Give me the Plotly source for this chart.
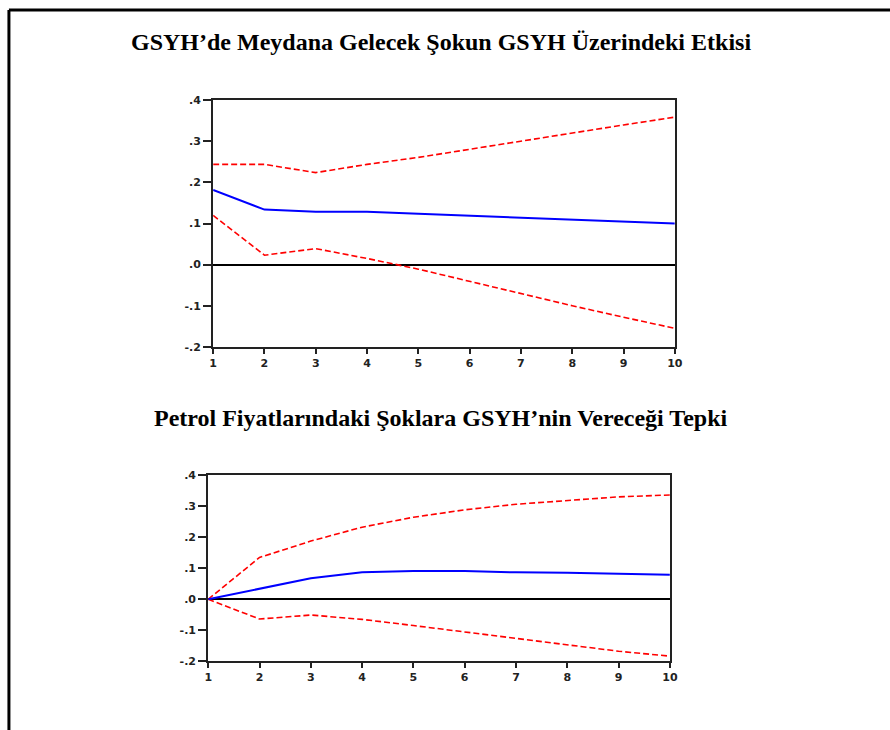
import plotly.graph_objects as go

W, H = 890, 730

periods = [1, 2, 3, 4, 5, 6, 7, 8, 9, 10]

# Chart 1: GSYH shock -> GSYH
gdp_resp = [0.182, 0.134, 0.129, 0.129, 0.124, 0.119, 0.114, 0.109, 0.104, 0.100]
gdp_upper = [0.244, 0.244, 0.224, 0.244, 0.261, 0.281, 0.300, 0.320, 0.340, 0.359]
gdp_lower = [0.120, 0.023, 0.039, 0.015, -0.011, -0.041, -0.070, -0.100, -0.128, -0.155]

# Chart 2: Oil price shock -> GSYH
oil_resp = [0.0, 0.034, 0.068, 0.087, 0.091, 0.091, 0.087, 0.086, 0.083, 0.079]
oil_upper = [0.0, 0.135, 0.188, 0.233, 0.265, 0.289, 0.307, 0.320, 0.331, 0.337]
oil_lower = [0.0, -0.064, -0.051, -0.065, -0.085, -0.106, -0.127, -0.149, -0.168, -0.184]

ytick_vals = [-0.2, -0.1, 0.0, 0.1, 0.2, 0.3, 0.4]
ytick_text = ["-.2", "-.1", ".0", ".1", ".2", ".3", ".4"]
xtick_vals = periods
xtick_text = [str(p) for p in periods]

title1 = "GSYH’de Meydana Gelecek Şokun GSYH Üzerindeki Etkisi"
title2 = "Petrol Fiyatlarındaki Şoklara GSYH’nin Vereceği Tepki"

fig = go.Figure()

def add_panel(resp, upper, lower, xa, ya):
    fig.add_trace(go.Scatter(x=periods, y=upper, mode="lines", xaxis=xa, yaxis=ya,
                             line=dict(color="#ff0000", width=1.6, dash="6px,3px"),
                             showlegend=False, hoverinfo="skip"))
    fig.add_trace(go.Scatter(x=periods, y=lower, mode="lines", xaxis=xa, yaxis=ya,
                             line=dict(color="#ff0000", width=1.6, dash="6px,3px"),
                             showlegend=False, hoverinfo="skip"))
    fig.add_trace(go.Scatter(x=periods, y=resp, mode="lines", xaxis=xa, yaxis=ya,
                             line=dict(color="#0000ff", width=2),
                             showlegend=False, hoverinfo="skip"))

add_panel(gdp_resp, gdp_upper, gdp_lower, "x", "y")
add_panel(oil_resp, oil_upper, oil_lower, "x2", "y2")

tickfont = dict(family="DejaVu Sans", size=11, color="#222222", weight="bold")

def xaxis(dom, anchor):
    return dict(domain=dom, anchor=anchor, range=[1, 10], tickvals=xtick_vals, ticktext=xtick_text,
                showline=True, mirror=True, linecolor="#222222", linewidth=2,
                ticks="outside", ticklen=5, tickwidth=1.5, tickcolor="#222222",
                showgrid=False, zeroline=False, tickfont=tickfont)

def yaxis(dom, anchor):
    return dict(domain=dom, anchor=anchor, range=[-0.2, 0.4], tickvals=ytick_vals, ticktext=ytick_text,
                showline=True, mirror=True, linecolor="#222222", linewidth=2,
                ticks="outside", ticklen=8, tickwidth=1.5, tickcolor="#222222",
                showgrid=False, zeroline=True, zerolinecolor="#000000", zerolinewidth=1.5,
                tickfont=tickfont)

fig.update_layout(
    width=W, height=H,
    margin=dict(l=0, r=0, t=0, b=0),
    paper_bgcolor="white", plot_bgcolor="white",
    xaxis=xaxis([212 / W, 680 / W], "y"),
    yaxis=yaxis([1 - 347 / H, 1 - 96 / H], "x"),
    xaxis2=xaxis([207 / W, 675 / W], "y2"),
    yaxis2=yaxis([1 - 667 / H, 1 - 478 / H], "x2"),
    annotations=[
        dict(text=title1, xref="paper", yref="paper", x=443 / W, y=1 - 37 / H,
             xanchor="center", yanchor="middle", showarrow=False,
             font=dict(family="Liberation Serif", size=24, color="black", weight="bold")),
        dict(text=title2, xref="paper", yref="paper", x=443 / W, y=1 - 419 / H,
             xanchor="center", yanchor="middle", showarrow=False,
             font=dict(family="Liberation Serif", size=24, color="black", weight="bold")),
    ],
    shapes=[
        dict(type="line", xref="paper", yref="paper", x0=5 / W, x1=1.02, y0=1 - 4 / H, y1=1 - 4 / H,
             line=dict(color="black", width=3)),
        dict(type="line", xref="paper", yref="paper", x0=5 / W, x1=5 / W, y0=-0.02, y1=1 - 4 / H,
             line=dict(color="black", width=3)),
    ],
)

fig.write_html("out.html", config={"displayModeBar": False},
               post_script="document.body.style.margin='0';document.body.style.overflow='hidden';")
